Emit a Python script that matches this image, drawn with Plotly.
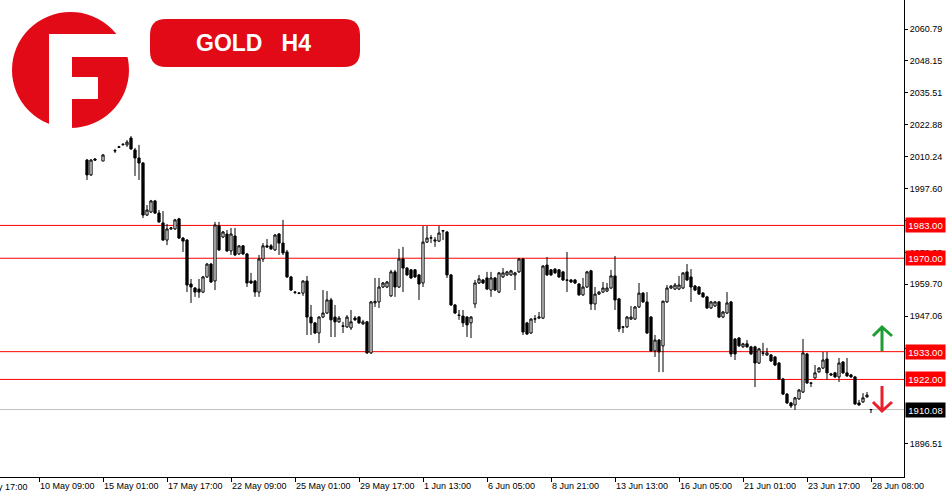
import plotly.graph_objects as go

# ---- data (bar index 0 = first visible candle) ----
opens = [
    2008.9, 2003.0, 2009.3, None, 2008.5, None, None, 2012.5, 2014.1, 2015.0,
    2014.9, 2017.6, 2012.9, 2009.7, 2007.7, 1987.1, 1988.3, 1992.7, 1987.9, 1984.0,
    1977.2, 1981.6, 1981.6, 1985.6, 1978.0, 1977.2, 1959.8, 1958.2, 1957.8, 1956.6,
    1962.6, 1967.7, 1961.0, 1982.8, 1978.4, 1979.6, 1972.9, 1978.8, 1971.7, 1974.9,
    1971.7, 1961.0, 1961.0, 1956.6, 1969.7, 1974.9, 1974.9, 1973.3, 1979.6, 1976.0,
    1972.5, 1962.6, 1956.6, 1956.2, 1956.2, 1961.0, 1946.7, 1944.4, 1940.4, 1946.7,
    1948.3, 1953.5, 1946.7, 1944.8, 1943.2, 1942.8, 1942.4, 1946.3, 1946.7, 1944.0,
    1944.8, 1932.5, 1952.3, 1952.7, 1958.6, 1958.6, 1955.1, 1964.6, 1958.6, 1969.7,
    1966.1, 1965.4, 1965.4, 1963.4, 1960.2, 1976.4, 1978.0, 1976.8, 1976.8, 1980.8,
    1980.4, 1963.4, 1951.5, 1947.5, 1947.1, 1946.7, 1944.4, 1951.9, 1960.2, 1961.4,
    1962.2, 1957.4, 1962.2, 1956.6, 1962.6, 1963.4, 1963.4, 1963.4, 1964.6, 1969.7,
    1944.4, 1940.4, 1945.9, 1946.3, 1946.3, 1967.3, 1965.4, 1965.7, 1965.4, 1964.6,
    1961.4, 1961.4, 1961.4, 1959.8, 1955.5, 1958.6, 1965.0, 1951.9, 1955.8, 1956.6,
    1957.0, 1958.2, 1963.0, 1953.9, 1942.8, 1942.8, 1945.9, 1945.9, 1950.7, 1956.2,
    1952.7, 1946.7, 1933.3, 1937.6, 1935.3, 1952.7, 1958.2, 1957.8, 1957.8, 1958.2,
    1964.6, 1962.6, 1959.0, 1958.6, 1956.2, 1954.7, 1950.3, 1951.1, 1952.7, 1946.7,
    1948.3, 1952.7, 1938.0, 1938.4, 1934.9, 1936.1, 1934.9, 1934.9, 1928.5, 1932.5,
    1931.7, 1931.7, 1930.9, 1928.5, 1922.2, 1916.2, 1912.7, 1911.9, 1914.3, 1917.0,
    1932.1, 1920.6, 1922.6, 1925.0, 1926.5, 1930.1, 1924.2, 1924.6, 1923.0, 1928.9,
    1924.6, 1923.8, 1923.0, 1912.7, 1913.1, 1915.1, 1910.1,
]
highs = [
    2009.3, 2009.3, 2009.7, None, 2011.3, None, None, 2013.3, 2014.5, 2015.6,
    2016.8, 2018.4, 2013.7, 2014.9, 2008.1, 1991.1, 1993.1, 1993.1, 1989.1, 1988.7,
    1983.6, 1982.4, 1985.6, 1986.0, 1978.4, 1977.6, 1961.8, 1958.6, 1961.8, 1963.0,
    1968.1, 1968.1, 1984.4, 1984.4, 1980.8, 1981.2, 1982.0, 1982.0, 1975.2, 1975.2,
    1972.1, 1964.2, 1961.4, 1971.3, 1976.0, 1977.6, 1975.6, 1979.6, 1980.0, 1985.2,
    1973.3, 1963.0, 1957.0, 1956.6, 1961.2, 1963.0, 1951.5, 1944.8, 1947.1, 1957.4,
    1957.0, 1954.3, 1951.5, 1947.1, 1944.8, 1947.5, 1949.5, 1947.1, 1947.1, 1945.6,
    1945.2, 1953.1, 1962.2, 1962.2, 1960.6, 1961.0, 1965.4, 1965.4, 1973.7, 1974.5,
    1966.5, 1965.7, 1965.7, 1963.8, 1982.8, 1982.8, 1979.2, 1978.4, 1982.8, 1981.2,
    1980.8, 1963.8, 1951.9, 1949.5, 1949.5, 1947.1, 1947.1, 1961.4, 1963.4, 1961.8,
    1964.6, 1964.6, 1962.6, 1964.6, 1966.1, 1965.0, 1965.4, 1964.6, 1970.1, 1970.1,
    1944.8, 1946.3, 1947.5, 1948.7, 1967.3, 1970.5, 1965.7, 1966.1, 1965.7, 1965.0,
    1972.5, 1961.8, 1961.8, 1960.2, 1962.2, 1965.0, 1965.4, 1958.6, 1957.0, 1960.6,
    1960.2, 1965.4, 1970.9, 1954.3, 1943.2, 1947.1, 1951.1, 1951.1, 1960.2, 1956.6,
    1956.6, 1947.1, 1939.6, 1938.0, 1953.1, 1959.4, 1959.4, 1960.2, 1963.0, 1964.4,
    1967.7, 1965.7, 1959.4, 1959.0, 1956.6, 1955.1, 1953.1, 1953.1, 1953.1, 1949.1,
    1956.6, 1953.1, 1938.4, 1938.8, 1936.5, 1937.6, 1935.3, 1935.3, 1934.5, 1936.5,
    1934.5, 1932.1, 1931.3, 1928.9, 1922.6, 1916.6, 1913.1, 1915.1, 1918.2, 1938.0,
    1932.5, 1921.0, 1927.7, 1926.9, 1932.9, 1932.9, 1924.6, 1925.0, 1930.5, 1929.3,
    1930.5, 1924.2, 1923.4, 1913.9, 1916.6, 1917.0, 1910.3,
]
lows = [
    2001.0, 2002.6, 2008.5, None, 2008.5, None, None, 2011.7, 2013.7, 2014.5,
    2014.1, 2012.9, 2002.6, 2001.0, 1985.9, 1986.7, 1987.9, 1987.5, 1984.0, 1976.9,
    1975.2, 1981.2, 1981.2, 1977.6, 1972.5, 1956.6, 1952.3, 1954.7, 1954.3, 1956.2,
    1962.2, 1960.2, 1957.4, 1972.9, 1978.0, 1972.5, 1971.3, 1970.9, 1971.3, 1971.3,
    1958.6, 1959.8, 1954.7, 1954.7, 1968.5, 1974.1, 1973.3, 1972.9, 1971.3, 1971.3,
    1962.2, 1957.0, 1955.8, 1955.8, 1955.1, 1939.6, 1939.6, 1940.0, 1936.4, 1946.3,
    1947.9, 1938.8, 1938.8, 1944.4, 1940.4, 1942.4, 1941.6, 1945.2, 1944.0, 1943.6,
    1932.1, 1932.1, 1950.7, 1950.3, 1958.2, 1958.2, 1954.7, 1954.7, 1958.2, 1956.6,
    1963.0, 1961.8, 1962.2, 1953.5, 1958.6, 1976.0, 1976.0, 1974.5, 1976.4, 1977.2,
    1962.2, 1951.1, 1947.9, 1945.6, 1942.8, 1938.8, 1938.4, 1950.3, 1959.8, 1959.8,
    1957.4, 1954.7, 1957.0, 1956.2, 1962.2, 1963.0, 1963.0, 1957.4, 1964.2, 1939.6,
    1939.6, 1940.0, 1944.4, 1945.9, 1945.9, 1963.0, 1963.0, 1963.8, 1962.2, 1961.0,
    1956.6, 1960.2, 1959.8, 1955.1, 1955.1, 1958.2, 1949.5, 1949.5, 1955.5, 1956.2,
    1956.6, 1957.8, 1949.5, 1940.8, 1940.4, 1942.4, 1945.6, 1945.6, 1950.3, 1952.3,
    1940.0, 1932.9, 1930.9, 1924.9, 1924.9, 1952.3, 1957.8, 1957.4, 1957.4, 1957.8,
    1961.0, 1952.7, 1957.0, 1955.5, 1954.3, 1949.9, 1949.9, 1950.7, 1946.3, 1946.3,
    1947.9, 1930.9, 1929.7, 1934.9, 1934.5, 1934.5, 1931.7, 1919.0, 1928.1, 1931.3,
    1931.3, 1928.9, 1927.3, 1921.8, 1915.8, 1912.3, 1910.7, 1909.9, 1913.9, 1916.6,
    1920.2, 1919.0, 1922.2, 1924.6, 1926.1, 1921.8, 1923.4, 1922.6, 1921.0, 1924.2,
    1923.0, 1922.6, 1911.9, 1911.5, 1912.7, 1914.7, 1908.7,
]
closes = [
    2003.0, 2008.9, 2008.9, None, 2010.9, None, None, 2012.6, 2014.0, 2015.1,
    2016.0, 2013.3, 2009.7, 2007.7, 1987.1, 1989.1, 1992.7, 1987.9, 1984.4, 1977.2,
    1981.6, 1982.0, 1985.2, 1978.0, 1976.8, 1959.4, 1958.6, 1956.6, 1956.6, 1962.6,
    1967.7, 1960.6, 1983.2, 1973.3, 1980.4, 1972.9, 1979.6, 1971.3, 1974.9, 1971.7,
    1960.2, 1960.2, 1956.6, 1969.7, 1974.9, 1974.5, 1973.7, 1979.2, 1976.0, 1972.1,
    1962.6, 1957.4, 1956.5, 1956.1, 1961.0, 1946.7, 1944.4, 1940.4, 1946.7, 1948.3,
    1953.5, 1945.6, 1944.8, 1946.3, 1943.1, 1946.7, 1944.8, 1945.6, 1944.4, 1944.8,
    1932.5, 1952.7, 1952.9, 1958.6, 1960.2, 1960.6, 1964.6, 1958.6, 1969.7, 1966.1,
    1963.4, 1962.2, 1962.6, 1959.8, 1976.4, 1978.0, 1978.1, 1977.2, 1980.0, 1980.9,
    1963.4, 1951.5, 1948.3, 1947.4, 1944.4, 1943.6, 1946.7, 1960.2, 1961.8, 1960.2,
    1957.8, 1962.2, 1957.4, 1964.2, 1964.2, 1964.6, 1965.0, 1964.2, 1969.7, 1940.8,
    1940.0, 1945.9, 1946.0, 1946.7, 1966.9, 1963.4, 1963.4, 1964.2, 1962.6, 1961.4,
    1961.3, 1960.6, 1960.2, 1955.5, 1958.6, 1964.6, 1951.9, 1955.8, 1956.6, 1958.2,
    1958.2, 1963.0, 1953.5, 1942.0, 1942.7, 1946.7, 1946.7, 1950.7, 1956.2, 1952.7,
    1940.4, 1933.3, 1937.6, 1932.9, 1953.0, 1958.2, 1959.0, 1959.4, 1959.4, 1964.2,
    1961.4, 1958.6, 1957.4, 1955.8, 1954.7, 1950.3, 1952.7, 1952.7, 1946.7, 1948.7,
    1952.3, 1932.1, 1932.1, 1935.3, 1936.1, 1934.9, 1932.1, 1928.5, 1934.1, 1932.4,
    1932.5, 1929.3, 1927.7, 1922.2, 1916.2, 1912.7, 1911.5, 1914.7, 1917.8, 1932.5,
    1920.6, 1920.5, 1924.6, 1926.5, 1929.7, 1924.6, 1923.8, 1923.0, 1928.5, 1924.6,
    1923.4, 1923.0, 1912.3, 1911.9, 1914.7, 1915.8, 1910.08,
]
bar_idx = list(range(len(opens)))

# time axis labels (one every 16 bars)
time_ticks = [-12, 4, 20, 36, 52, 68, 84, 100, 116, 132, 148, 164, 180, 196]
time_labels = ["10 May 09:00", "15 May 01:00", "17 May 17:00", "22 May 09:00",
               "25 May 01:00", "29 May 17:00", "1 Jun 13:00", "6 Jun 05:00",
               "8 Jun 21:00", "13 Jun 13:00", "16 Jun 05:00", "21 Jun 01:00",
               "23 Jun 17:00", "28 Jun 08:00"]
first_label_pos = -28
first_label = "5 May 17:00"

# price scale (1921.79 and 1909.15 sit under the price tags, so not listed)
price_ticks = [2060.79, 2048.15, 2035.51, 2022.88, 2010.24, 1997.60, 1984.97,
               1972.33, 1959.70, 1947.06, 1934.42, 1896.51]
levels = [1983.00, 1970.00, 1933.00, 1922.00]
last_price = 1910.08

X_RANGE = [-21.75, 204.25]
Y_RANGE = [1883.36, 2072.28]
RED = "#FF0000"
BRAND = "#E30A17"
FONT = "Liberation Sans, Arial, sans-serif"

fig = go.Figure(go.Candlestick(
    x=bar_idx, open=opens, high=highs, low=lows, close=closes,
    increasing=dict(fillcolor="white", line=dict(color="black", width=1)),
    decreasing=dict(fillcolor="black", line=dict(color="black", width=1)),
    whiskerwidth=0, hoverinfo="skip", showlegend=False,
))

# ── support / resistance lines + price tags ──────────────────────────────────
shapes = []
annotations = []
for lv in levels:
    shapes.append(dict(type="line", xref="paper", x0=0, x1=1, yref="y", y0=lv, y1=lv,
                       line=dict(color=RED, width=1), layer="below"))
    annotations.append(dict(xref="paper", x=1, xanchor="left", xshift=1, yref="y", y=lv,
                            yanchor="middle", text=f"{lv:.2f}", showarrow=False,
                            bgcolor=RED, width=36, height=11, borderpad=1.5,
                            font=dict(family=FONT, size=9.5, color="white")))
shapes.append(dict(type="line", xref="paper", x0=0, x1=1, yref="y", y0=last_price, y1=last_price,
                   line=dict(color="#C0C0C0", width=1), layer="below"))
annotations.append(dict(xref="paper", x=1, xanchor="left", xshift=1, yref="y", y=last_price,
                        yanchor="middle", text=f"{last_price:.2f}", showarrow=False,
                        bgcolor="black", width=36, height=11, borderpad=1.5,
                        font=dict(family=FONT, size=9.5, color="white")))

# clipped label of the tick just left of the view
annotations.append(dict(xref="paper",
                        x=(first_label_pos - X_RANGE[0]) / (X_RANGE[1] - X_RANGE[0]),
                        xanchor="left", xshift=1, yref="paper", y=0, yanchor="top", yshift=-3,
                        text=first_label, showarrow=False,
                        font=dict(family=FONT, size=9, color="black")))


# ── logo + title badge (pixel offsets from the top-left corner) ──────────────
def corner(**kw):
    return dict(xref="paper", yref="paper", xsizemode="pixel", ysizemode="pixel",
                xanchor=0, yanchor=1, layer="above", line=dict(width=0), **kw)


shapes += [
    corner(type="circle", x0=12, x1=129, y0=-12, y1=-128, fillcolor=BRAND),
    corner(type="rect", x0=49, x1=72, y0=-34, y1=-131, fillcolor="white"),
    corner(type="rect", x0=49, x1=132, y0=-34, y1=-57, fillcolor="white"),
    corner(type="rect", x0=72, x1=98, y0=-77, y1=-99, fillcolor="white"),
    corner(type="path", fillcolor=BRAND,
           path="M 166,-19 L 344,-19 Q 360,-19 360,-35 L 360,-51 Q 360,-67 344,-67 "
                "L 166,-67 Q 150,-67 150,-51 L 150,-35 Q 150,-19 166,-19 Z"),
]
annotations.append(dict(xref="paper", yref="paper", x=0, y=1, xshift=253, yshift=-43,
                        xanchor="center", yanchor="middle", showarrow=False,
                        text="GOLD\u00a0\u00a0\u00a0H4",
                        font=dict(family="Liberation Sans, Arial, sans-serif", size=23,
                                  color="white", weight=700)))

# ── up / down arrows (pixel offsets from the top-right corner of the plot) ───
def arrow(path, color):
    return dict(type="path", xref="paper", yref="paper", xsizemode="pixel", ysizemode="pixel",
                xanchor=1, yanchor=1, path=path, line=dict(color=color, width=3), layer="above")


shapes += [
    arrow("M -22,-351 L -22,-328 M -31,-336 L -22,-327 L -12,-336", "#1E9E32"),
    arrow("M -22,-386 L -22,-410 M -31,-402 L -22,-411 L -12,-402", "#E8202A"),
]

fig.update_layout(
    width=950, height=500,
    margin=dict(l=0, r=46, t=0, b=23),
    paper_bgcolor="white", plot_bgcolor="white",
    showlegend=False,
    boxgap=0.2,
    font=dict(family=FONT, size=9, color="black"),
    shapes=shapes, annotations=annotations,
    xaxis=dict(
        range=X_RANGE, rangeslider=dict(visible=False),
        showgrid=False, zeroline=False,
        showline=True, linecolor="black", linewidth=1,
        ticks="outside", ticklen=4, tickcolor="black",
        tickvals=time_ticks, ticktext=time_labels,
        ticklabelposition="outside right", ticklabeloverflow="allow",
        tickfont=dict(family=FONT, size=9, color="black"),
    ),
    yaxis=dict(
        range=Y_RANGE, side="right",
        showgrid=False, zeroline=False,
        showline=True, linecolor="black", linewidth=1,
        ticks="outside", ticklen=3, tickcolor="black",
        tickvals=price_ticks, ticktext=[f"{v:.2f}" for v in price_ticks],
        tickfont=dict(family=FONT, size=9, color="black"),
    ),
)

# page body margin off so the 950x500 figure sits at the window origin
fig.write_html("out.html", config={"displayModeBar": False},
               post_script="document.body.style.margin='0';")
